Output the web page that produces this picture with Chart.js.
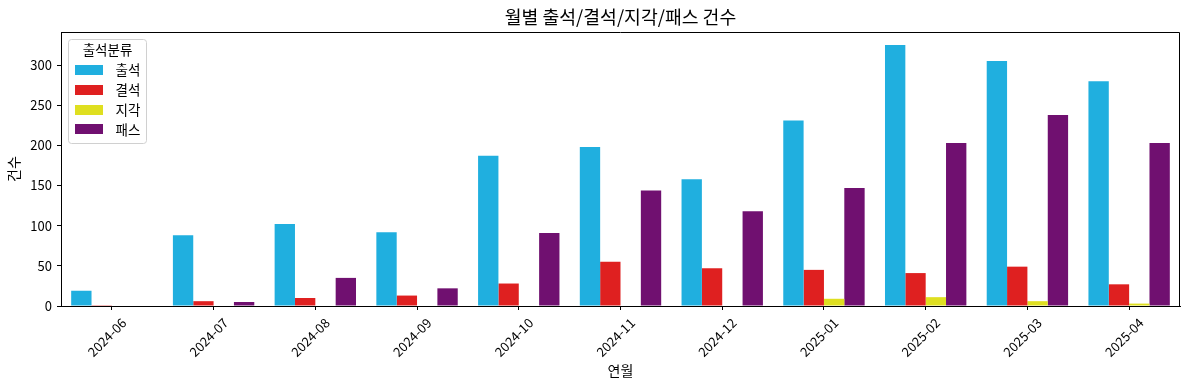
<!DOCTYPE html>
<html>
<head>
<meta charset="utf-8">
<script src="https://cdn.jsdelivr.net/npm/chart.js@4/dist/chart.umd.min.js"></script>
<style>
  html, body { margin: 0; padding: 0; background: #fff; }
  #c { display: block; }
</style>
</head>
<body>
<canvas id="c" width="1189" height="390" style="width:1189px;height:390px"></canvas>
<script>
// ---- data ----
const months = ['2024-06','2024-07','2024-08','2024-09','2024-10','2024-11','2024-12','2025-01','2025-02','2025-03','2025-04'];
const seriesNames = ['출석','결석','지각','패스'];
const attend = [19, 88, 102, 92, 187, 198, 158, 231, 325, 305, 280];
const absent = [1, 6, 10, 13, 28, 55, 47, 45, 41, 49, 27];
const late   = [0, 0, 0, 0, 0, 0, 0, 9, 11, 6, 3];
const pass   = [0, 5, 35, 22, 91, 144, 118, 147, 203, 238, 203];
const yTicks = [0, 50, 100, 150, 200, 250, 300];
const yMax = 341.25;
const chartTitle = '월별 출석/결석/지각/패스 건수';
const xTitle = '연월';
const yTitle = '건수';
const legendTitle = '출석분류';
const colors = ['#20afdf', '#df2020', '#dfdf20', '#701070'];

const FONT = '"Noto Sans CJK KR", "Noto Sans", sans-serif';

const frame = {
  id: 'frame',
  afterDraw(chart) {
    const {ctx, chartArea: a} = chart;
    ctx.save();
    ctx.strokeStyle = '#000';
    ctx.lineWidth = 1;
    ctx.beginPath();
    ctx.moveTo(Math.round(a.left) + 0.5, Math.round(a.top) + 0.5);
    ctx.lineTo(Math.round(a.right) - 0.5, Math.round(a.top) + 0.5);
    ctx.lineTo(Math.round(a.right) - 0.5, Math.round(a.bottom) + 0.5);
    ctx.stroke();
    // title centred over the plot area
    ctx.font = '18.3px ' + FONT;
    ctx.fillStyle = '#000';
    ctx.textAlign = 'center';
    ctx.textBaseline = 'middle';
    ctx.fillText(chartTitle, (a.left + a.right) / 2, 17);
    ctx.restore();
  }
};

const boxLegend = {
  id: 'boxLegend',
  afterDatasetsDraw(chart) {
    const {ctx, chartArea: a} = chart;
    const x0 = a.left + 7.5, y0 = a.top + 7.5;
    const w = 78, h = 104, r = 3;
    ctx.save();
    ctx.beginPath();
    ctx.moveTo(x0 + r, y0);
    ctx.lineTo(x0 + w - r, y0);
    ctx.quadraticCurveTo(x0 + w, y0, x0 + w, y0 + r);
    ctx.lineTo(x0 + w, y0 + h - r);
    ctx.quadraticCurveTo(x0 + w, y0 + h, x0 + w - r, y0 + h);
    ctx.lineTo(x0 + r, y0 + h);
    ctx.quadraticCurveTo(x0, y0 + h, x0, y0 + h - r);
    ctx.lineTo(x0, y0 + r);
    ctx.quadraticCurveTo(x0, y0, x0 + r, y0);
    ctx.closePath();
    ctx.fillStyle = 'rgba(255,255,255,0.8)';
    ctx.fill();
    ctx.strokeStyle = '#d0d0d0';
    ctx.lineWidth = 1;
    ctx.stroke();
    ctx.font = '13.5px ' + FONT;
    ctx.fillStyle = '#000';
    ctx.textAlign = 'center';
    ctx.textBaseline = 'middle';
    ctx.fillText(legendTitle, x0 + w / 2, y0 + 10);
    chart.data.datasets.forEach((ds, i) => {
      const cy = y0 + 30.5 + i * 19.8;
      ctx.fillStyle = ds.backgroundColor;
      ctx.fillRect(Math.round(x0 + 6), Math.round(cy - 5), 28, 10);
      ctx.fillStyle = '#000';
      ctx.textAlign = 'left';
      ctx.fillText(ds.label, x0 + 47, cy);
    });
    ctx.restore();
  }
};

const seriesData = [attend, absent, late, pass];

new Chart(document.getElementById('c'), {
  type: 'bar',
  data: {
    labels: months,
    datasets: seriesNames.map((name, i) => ({
      label: name,
      data: seriesData[i],
      backgroundColor: colors[i],
      borderWidth: 0,
      categoryPercentage: 0.8,
      barPercentage: 1.0
    }))
  },
  options: {
    responsive: false,
    devicePixelRatio: 1,
    animation: false,
    layout: { padding: { left: 0, right: 9, top: 32, bottom: 0 } },
    plugins: {
      legend: { display: false },
      tooltip: { enabled: false },
      title: { display: false }
    },
    scales: {
      x: {
        type: 'category',
        offset: true,
        grid: { display: true, drawOnChartArea: false, drawTicks: true, tickLength: 4, tickColor: '#000', offset: false },
        border: { display: true, color: '#000', width: 1 },
        ticks: {
          color: '#000',
          font: { family: FONT, size: 13 },
          minRotation: 45, maxRotation: 45,
          autoSkip: false,
          padding: 5,
          labelOffset: 12
        },
        title: {
          display: true, text: xTitle, color: '#000',
          font: { family: FONT, size: 14, lineHeight: 1.2 },
          padding: { top: 0, bottom: 10.6 }
        },
        afterFit(scale) { scale.height = 84; }
      },
      y: {
        min: 0,
        max: yMax,
        grid: { display: true, drawOnChartArea: false, drawTicks: true, tickLength: 4, tickColor: '#000' },
        border: { display: true, color: '#000', width: 1 },
        ticks: {
          color: '#000',
          font: { family: FONT, size: 13 },
          padding: 5
        },
        afterBuildTicks(scale) { scale.ticks = yTicks.map(v => ({ value: v })); },
        title: {
          display: true, text: yTitle, color: '#000',
          font: { family: FONT, size: 14, lineHeight: 1.2 },
          padding: { top: 5.6, bottom: 0 }
        },
        afterFit(scale) { scale.width = 61; }
      }
    }
  },
  plugins: [frame, boxLegend]
});
</script>
</body>
</html>
